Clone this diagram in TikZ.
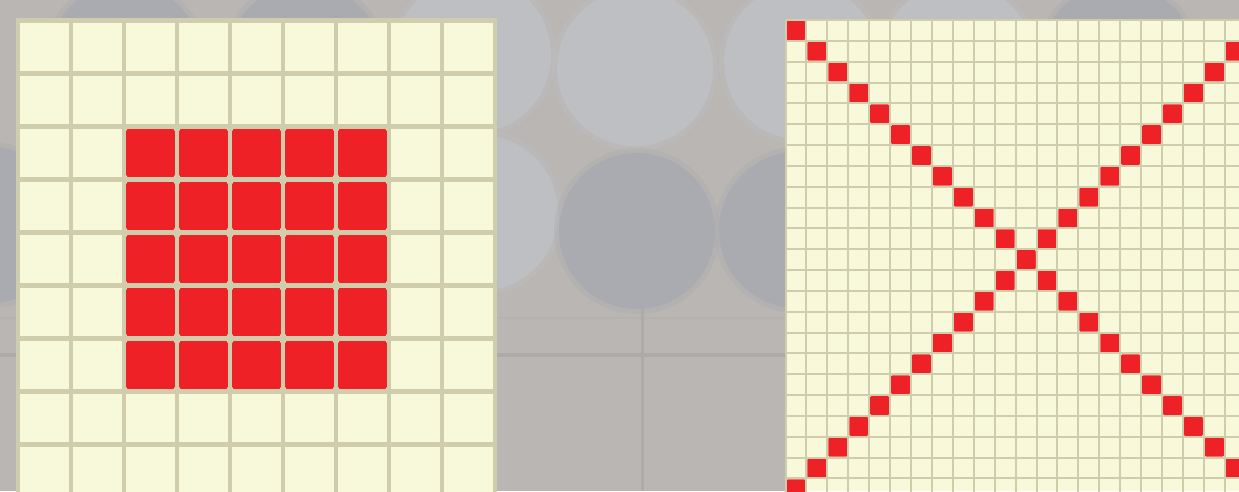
\documentclass[tikz,border=0pt]{standalone}
\definecolor{board}{HTML}{BAB6B3}
\definecolor{boardline}{HTML}{AEAAA7}
\definecolor{stonelight}{HTML}{BDBFC3}
\definecolor{stonedark}{HTML}{A9ABB0}
\definecolor{cellfill}{HTML}{F8F8DA}
\definecolor{gridline}{HTML}{CFCDAB}
\definecolor{cellred}{HTML}{EE2226}
\begin{document}
\begin{tikzpicture}[x=1pt,y=-1pt,
  stone/.style={fill=#1},
  halo/.style={fill=#1,opacity=0.35},
  bigline/.style={draw=gridline,line width=4.3pt},
  smallline/.style={draw=gridline,line width=2pt},
  bigred/.style={fill=cellred,rounded corners=2.5pt},
  smallred/.style={fill=cellred,rounded corners=1pt}]
\useasboundingbox (0,0) rectangle (1239,491);
\clip (0,0) rectangle (1239,491);
\fill[board] (0,0) rectangle (1239,491);
\draw[boardline,line width=4pt] (0,355) -- (1239,355);
\draw[boardline,line width=1.5pt,opacity=.25] (0,318) -- (1239,318);
\draw[boardline,line width=3pt] (642,300) -- (642,491);
\foreach \sx/\sy/\sc in {125/62/stonedark, 305/62/stonedark, 473/55/stonelight, 635/68/stonelight,
  802/62/stonelight, 957/62/stonelight, 1118/62/stonedark, -10/225/stonedark, 160/225/stonedark,
  320/225/stonedark, 480/213/stonelight, 637/231/stonedark, 797/230/stonedark}
{
  \fill[halo=\sc] (\sx,\sy) circle (83);
  \fill[stone=\sc] (\sx,\sy) circle (78);
}
\fill[cellfill] (16,18.5) rectangle (497,500);
\foreach \c in {2,...,6}
  \foreach \r in {2,...,6}
    \fill[bigred] ({18+\c*53+2.2},{20.5+\r*53+2.2}) rectangle ++(48.6,48.6);
\foreach \i in {0,...,9} {
  \draw[bigline] ({18+\i*53},18.5) -- ({18+\i*53},500);
  \draw[bigline] (16,{20.5+\i*53}) -- (497,{20.5+\i*53});
}
\fill[cellfill] (784.5,19) rectangle (1239,491);
\foreach \r in {0,...,22} {
  \fill[smallred] ({785.5+\r*20.92+1},{20+\r*20.84+1}) rectangle ++(18.9,18.8);
  \fill[smallred] ({785.5+(22-\r)*20.92+1},{20+\r*20.84+1}) rectangle ++(18.9,18.8);
}
\foreach \i in {0,...,22} {
  \draw[smallline] ({785.5+\i*20.92},19) -- ++(0,480);
  \draw[smallline] (784.5,{20+\i*20.84}) -- (1239,{20+\i*20.84});
}
\end{tikzpicture}
\end{document}
